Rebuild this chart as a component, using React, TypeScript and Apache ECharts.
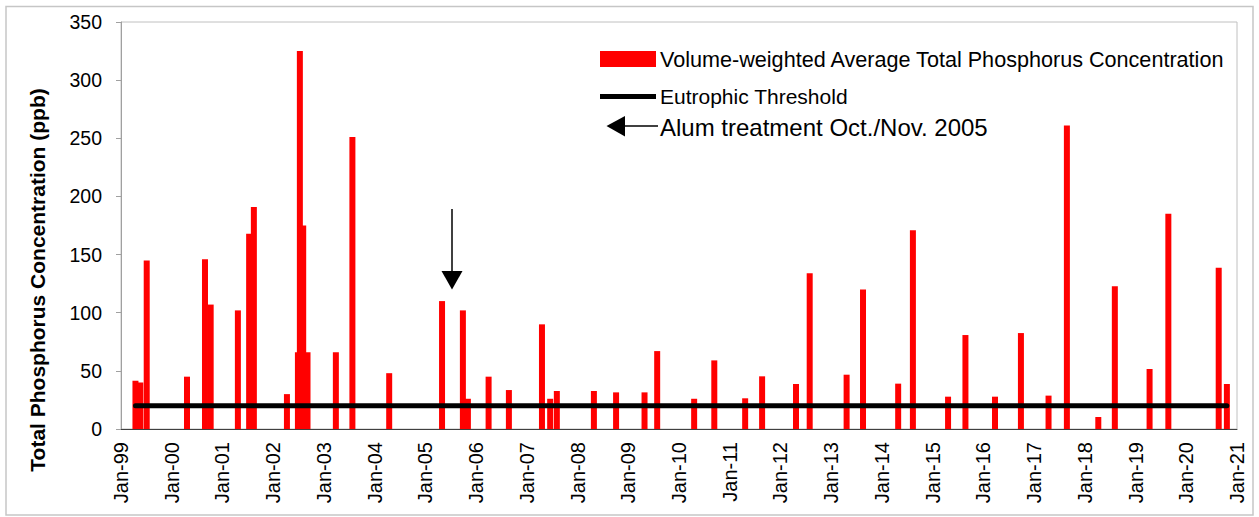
import React, { useEffect, useRef } from "react";
import * as echarts from "echarts";

const FONT = "'Liberation Sans', Arial, Helvetica, sans-serif";

// Sample dates and volume-weighted average total phosphorus (ppb)
const SAMPLE_DATES = [
  "1999-04-15", "1999-05-20", "1999-07-05",
  "2000-04-20", "2000-08-28", "2000-10-08",
  "2001-04-22", "2001-07-12", "2001-08-15",
  "2002-04-10", "2002-06-28", "2002-07-12", "2002-08-05", "2002-09-05",
  "2003-03-28", "2003-07-25",
  "2004-04-15",
  "2005-05-01", "2005-09-28", "2005-11-03",
  "2006-04-01", "2006-08-25",
  "2007-04-20", "2007-06-18", "2007-08-05",
  "2008-04-28", "2008-10-05",
  "2009-04-28", "2009-07-28",
  "2010-04-20", "2010-09-12",
  "2011-04-22", "2011-08-22",
  "2012-04-22", "2012-07-30",
  "2013-04-22", "2013-08-18",
  "2014-04-28", "2014-08-12",
  "2015-04-22", "2015-08-25",
  "2016-03-25", "2016-09-28",
  "2017-04-15", "2017-08-25",
  "2018-04-08", "2018-08-05",
  "2019-04-12", "2019-08-25",
  "2020-08-22", "2020-10-20",
];

const TP_VALUES = [
  41.5, 40, 145,
  45, 146, 107,
  102, 168, 191,
  30, 66, 325, 175, 66,
  66, 251,
  48,
  110, 102, 26,
  45, 33.5,
  90, 26, 32.7,
  32.7, 31.5,
  31.5, 67,
  26, 59,
  26.4, 45.3,
  38.7, 134,
  46.7, 120,
  39, 171,
  27.8, 80.8,
  27.8, 82.5,
  28.7, 261,
  10.3, 122.7,
  51.6, 185,
  138.7, 38.7,
];

const EUTROPHIC_THRESHOLD = 20;

const X_START_YEAR = 1999;
const X_END_YEAR = 2021;
const Y_MIN = 0;
const Y_MAX = 350;
const Y_INTERVAL = 50;

const SERIES_BAR = "Volume-weighted Average Total Phosphorus Concentration";
const SERIES_LINE = "Eutrophic Threshold";
const ALUM_LABEL = "Alum treatment Oct./Nov. 2005";
const Y_TITLE = "Total Phosphorus Concentration (ppb)";

function toDecimalYear(d: string): number {
  const [y, m, dd] = d.split("-").map(Number);
  const start = Date.UTC(y, 0, 1);
  const end = Date.UTC(y + 1, 0, 1);
  return y + (Date.UTC(y, m - 1, dd) - start) / (end - start);
}

function xLabel(v: number): string {
  const yr = Math.round(v) % 100;
  return "Jan-" + String(yr).padStart(2, "0");
}

export default function App() {
  const ref = useRef<HTMLDivElement>(null);

  useEffect(() => {
    if (!ref.current) return;
    const chart = echarts.init(ref.current, undefined, { renderer: "svg" });

    const barData = SAMPLE_DATES.map((d, i) => [toDecimalYear(d), TP_VALUES[i]]);
    const lineData = [
      [toDecimalYear(SAMPLE_DATES[0]), EUTROPHIC_THRESHOLD],
      [toDecimalYear(SAMPLE_DATES[SAMPLE_DATES.length - 1]), EUTROPHIC_THRESHOLD],
    ];

    chart.setOption({
      animation: false,
      backgroundColor: "#ffffff",
      textStyle: { fontFamily: FONT },
      grid: {
        left: 121,
        right: 22,
        top: 22,
        bottom: 88,
        show: true,
        borderColor: "#c0c0c0",
        borderWidth: 1,
        containLabel: false,
      },
      legend: [
        {
          data: [SERIES_BAR],
          left: 600,
          top: 48,
          padding: 0,
          icon: "rect",
          itemWidth: 56,
          itemHeight: 16,
          selectedMode: false,
          textStyle: { fontSize: 21.6, lineHeight: 16, color: "#000", fontFamily: FONT, padding: [0, 0, 0, -1] },
        },
        {
          data: [SERIES_LINE],
          left: 600,
          top: 86,
          padding: 0,
          icon: "rect",
          itemWidth: 56,
          itemHeight: 5,
          selectedMode: false,
          itemStyle: { color: "#000" },
          textStyle: { fontSize: 21, lineHeight: 16, color: "#000", fontFamily: FONT, padding: [0, 0, 0, -1] },
        },
      ],
      xAxis: {
        type: "value",
        min: X_START_YEAR,
        max: X_END_YEAR,
        interval: 1,
        axisLine: { show: true, lineStyle: { color: "#404040", width: 1 } },
        axisTick: { show: false },
        splitLine: { show: false },
        axisLabel: {
          formatter: xLabel,
          rotate: 90,
          fontSize: 20,
          color: "#000",
          margin: 13,
          fontFamily: FONT,
        },
      },
      yAxis: {
        type: "value",
        min: Y_MIN,
        max: Y_MAX,
        interval: Y_INTERVAL,
        axisLine: { show: true, lineStyle: { color: "#a0a0a0", width: 1 } },
        axisTick: { show: true, inside: false, length: 5, lineStyle: { color: "#a0a0a0" } },
        splitLine: { show: false },
        axisLabel: { fontSize: 19.5, color: "#000", margin: 19, fontFamily: FONT },
      },
      series: [
        {
          name: SERIES_BAR,
          type: "bar",
          data: barData,
          barWidth: 6,
          itemStyle: { color: "#ff0000" },
          z: 2,
        },
        {
          name: SERIES_LINE,
          type: "line",
          data: lineData,
          symbol: "none",
          color: "#000",
          itemStyle: { color: "#000" },
          lineStyle: { color: "#000", width: 5, cap: "round" },
          z: 3,
        },
      ],
      graphic: [
        {
          type: "rect",
          silent: true,
          z: -10,
          shape: { x: 6, y: 6.5, width: 1247, height: 508.5 },
          style: { fill: "none", stroke: "#c6c6c6", lineWidth: 1.5 },
        },
        {
          type: "text",
          x: 37,
          y: 280,
          rotation: Math.PI / 2,
          style: {
            text: Y_TITLE,
            fontSize: 21,
            fontWeight: "bold",
            fontFamily: FONT,
            fill: "#000",
            align: "center",
            verticalAlign: "middle",
          },
        },
        {
          type: "polygon",
          shape: { points: [[606.5, 126], [625, 116], [625, 136.5]] },
          style: { fill: "#000" },
        },
        {
          type: "line",
          shape: { x1: 624, y1: 126, x2: 658, y2: 126 },
          style: { stroke: "#000", lineWidth: 1.5 },
        },
        {
          type: "text",
          x: 660,
          y: 127,
          style: {
            text: ALUM_LABEL,
            fontSize: 24,
            fontFamily: FONT,
            fill: "#000",
            align: "left",
            verticalAlign: "middle",
          },
        },
        {
          type: "line",
          shape: { x1: 452, y1: 209, x2: 452, y2: 273 },
          style: { stroke: "#000", lineWidth: 1.5 },
        },
        {
          type: "polygon",
          shape: { points: [[441.5, 271], [462.5, 271], [452, 289.5]] },
          style: { fill: "#000" },
        },
      ],
    });

    return () => {
      chart.dispose();
    };
  }, []);

  return (
    <div
      ref={ref}
      style={{ position: "absolute", left: 0, top: 0, width: 1259, height: 517 }}
    />
  );
}
